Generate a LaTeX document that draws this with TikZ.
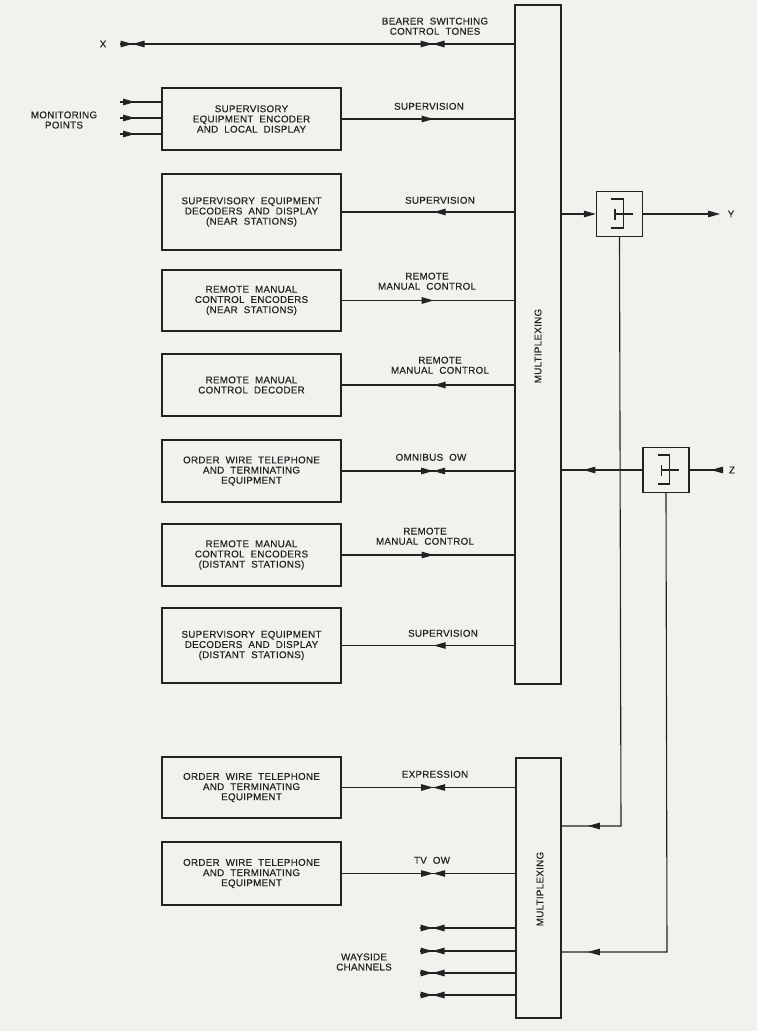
\documentclass[tikz,border=0pt]{standalone}
\usepackage{fontspec}
\setmainfont{Liberation Sans}[LetterSpace=3,WordSpace=2,FakeBold=0.35]
\usetikzlibrary{arrows.meta,decorations.markings}
\definecolor{paper}{HTML}{F2F1ED}
\definecolor{inkc}{HTML}{222222}
\newcommand{\lblfont}{\fontsize{9.8}{10.2}\selectfont}

\begin{document}
\begin{tikzpicture}[x=1pt,y=-1pt,
  sigtip/.tip={Triangle[length=12pt,width=6.5pt]},
  ink/.style={draw=inkc,line width=1.1pt},
  unit/.style={ink,line width=1.3pt,minimum width=179pt,inner sep=0pt,
    align=center,font=\lblfont,text=inkc},
  muxbox/.style={ink,line width=1.3pt,inner sep=0pt,font=\lblfont,text=inkc},
  tag/.style={inner sep=0pt,align=center,font=\lblfont,text=inkc},
  fwdat/.style={postaction={decorate,decoration={markings,
    mark=at position #1 with {\arrow[inkc]{sigtip}}}}},
  revat/.style={postaction={decorate,decoration={markings,
    mark=at position #1 with {\arrowreversed[inkc]{sigtip}}}}},
  bowat/.style={postaction={decorate,decoration={markings,
    mark=at position #1 with {\arrow[inkc]{sigtip}\arrowreversed[inkc]{sigtip}}}}},
  filterbox/.style={ink,line width=1.3pt,minimum width=46pt,minimum height=45pt,
    inner sep=0pt,
    path picture={
      \begin{scope}[shift={(path picture bounding box.center)}]
        \draw[inkc,line width=1.1pt] (-8.5,-15) -- (3.8,-15) -- (3.8,14) -- (-8.5,14);
        \draw[inkc,line width=1.1pt] (-4.5,0) -- (13,0);
        \draw[inkc,line width=1.1pt] (-4.5,-5.5) -- (-4.5,5.5);
      \end{scope}}}
]
% paper
\fill[paper] (0,0) rectangle (757,1031);
\useasboundingbox (0,0) rectangle (757,1031);

% multiplexing bars
\node[muxbox,minimum width=46pt,minimum height=679pt] (muxA) at (538,344.5) {};
\node[tag,rotate=90] at (538,346) {MULTIPLEXING};
\node[muxbox,minimum width=45pt,minimum height=260pt] (muxB) at (538.5,888) {};
\node[tag,rotate=90] at (540,889) {MULTIPLEXING};

% station units
\node[unit,minimum height=62pt] (b1) at (251.5,119) {SUPERVISORY\\EQUIPMENT ENCODER\\AND LOCAL DISPLAY};
\node[unit,minimum height=76pt] (b2) at (251.5,212) {SUPERVISORY EQUIPMENT\\DECODERS AND DISPLAY\\(NEAR STATIONS)};
\node[unit,minimum height=61pt] (b3) at (251.5,300.5) {REMOTE MANUAL\\CONTROL ENCODERS\\(NEAR STATIONS)};
\node[unit,minimum height=62pt] (b4) at (251.5,385) {REMOTE MANUAL\\CONTROL DECODER};
\node[unit,minimum height=62pt] (b5) at (251.5,471) {ORDER WIRE TELEPHONE\\AND TERMINATING\\EQUIPMENT};
\node[unit,minimum height=62pt] (b6) at (251.5,555) {REMOTE MANUAL\\CONTROL ENCODERS\\(DISTANT STATIONS)};
\node[unit,minimum height=75pt] (b7) at (251.5,645.5) {SUPERVISORY EQUIPMENT\\DECODERS AND DISPLAY\\(DISTANT STATIONS)};
\node[unit,minimum height=61pt] (b8) at (251.5,787.5) {ORDER WIRE TELEPHONE\\AND TERMINATING\\EQUIPMENT};
\node[unit,minimum height=63pt] (b9) at (251.5,873.5) {ORDER WIRE TELEPHONE\\AND TERMINATING\\EQUIPMENT};

% line filters
\node[filterbox] (fy) at (619.5,214) {};
\node[filterbox] (fz) at (666,470) {};

% terminals
\coordinate (xend) at (120,44);
\node[tag] (xl) at (103,44) {X};
\coordinate (yend) at (720,214);
\node[tag] (yl) at (731,214) {Y};
\coordinate (zend) at (722,470);
\node[tag] (zl) at (732,470) {Z};
\coordinate (mp1) at (120,102);
\coordinate (mp2) at (120,118);
\coordinate (mp3) at (120,134);
\node[tag] (mpl) at (64,120) {MONITORING\\POINTS};
\coordinate (ws1) at (420,928);
\coordinate (ws2) at (420,951);
\coordinate (ws3) at (420,973);
\coordinate (ws4) at (420,995);
\node[tag] (wsl) at (364,962) {WAYSIDE\\CHANNELS};
\coordinate (ry) at (621,826);
\coordinate (rz) at (667,952);

% bearer switching
\draw[ink,bowat=12.5pt,bowat=312.5pt] (xend) -- (xend -| muxA.west);
\node[tag,anchor=south] at (435,35) {BEARER SWITCHING\\CONTROL TONES};

% monitoring inputs
\draw[ink,fwdat=15pt] (mp1) -- (mp1 -| b1.west);
\draw[ink,fwdat=15pt] (mp2) -- (mp2 -| b1.west);
\draw[ink,fwdat=15pt] (mp3) -- (mp3 -| b1.west);

% unit channels
\draw[ink,fwdat=92pt] (b1.east) -- (b1.east -| muxA.west);
\node[tag,anchor=south] at (429,110) {SUPERVISION};
\draw[ink,revat=92pt] (b2.east) -- (b2.east -| muxA.west);
\node[tag,anchor=south] at (440,204) {SUPERVISION};
\draw[ink,fwdat=92pt] (b3.east) -- (b3.east -| muxA.west);
\node[tag,anchor=south] at (427,290) {REMOTE\\MANUAL CONTROL};
\draw[ink,revat=92pt] (b4.east) -- (b4.east -| muxA.west);
\node[tag,anchor=south] at (440,374) {REMOTE\\MANUAL CONTROL};
\draw[ink,bowat=91.5pt] (b5.east) -- (b5.east -| muxA.west);
\node[tag,anchor=south] at (431,461) {OMNIBUS OW};
\draw[ink,fwdat=92pt] (b6.east) -- (b6.east -| muxA.west);
\node[tag,anchor=south] at (425,545) {REMOTE\\MANUAL CONTROL};
\draw[ink,revat=92pt] (b7.east) -- (b7.east -| muxA.west);
\node[tag,anchor=south] at (443,637) {SUPERVISION};
\draw[ink,bowat=91.5pt] (b8.east) -- (b8.east -| muxB.west);
\node[tag,anchor=south] at (435,778) {EXPRESSION};
\draw[ink,bowat=91.5pt] (b9.east) -- (b9.east -| muxB.west);
\node[tag,anchor=south] at (432,864) {TV OW};

% wayside channels
\draw[ink,bowat=12.5pt] (ws1) -- (ws1 -| muxB.west);
\draw[ink,bowat=12.5pt] (ws2) -- (ws2 -| muxB.west);
\draw[ink,bowat=12.5pt] (ws3) -- (ws3 -| muxB.west);
\draw[ink,bowat=12.5pt] (ws4) -- (ws4 -| muxB.west);

% line side
\draw[ink,-sigtip] (fy.west -| muxA.east) -- (fy.west);
\draw[ink,-sigtip] (fy.east) -- (yend);
\draw[ink,fwdat=11pt] (zend) -- (fz.east);
\draw[ink,fwdat=59pt] (fz.west) -- (fz.west -| muxA.east);
\draw[ink,fwdat=622pt] (fy.south) -- (ry) -- (ry -| muxB.east);
\draw[ink,fwdat=538pt] (fz.south) -- (rz) -- (rz -| muxB.east);
\end{tikzpicture}
\end{document}
